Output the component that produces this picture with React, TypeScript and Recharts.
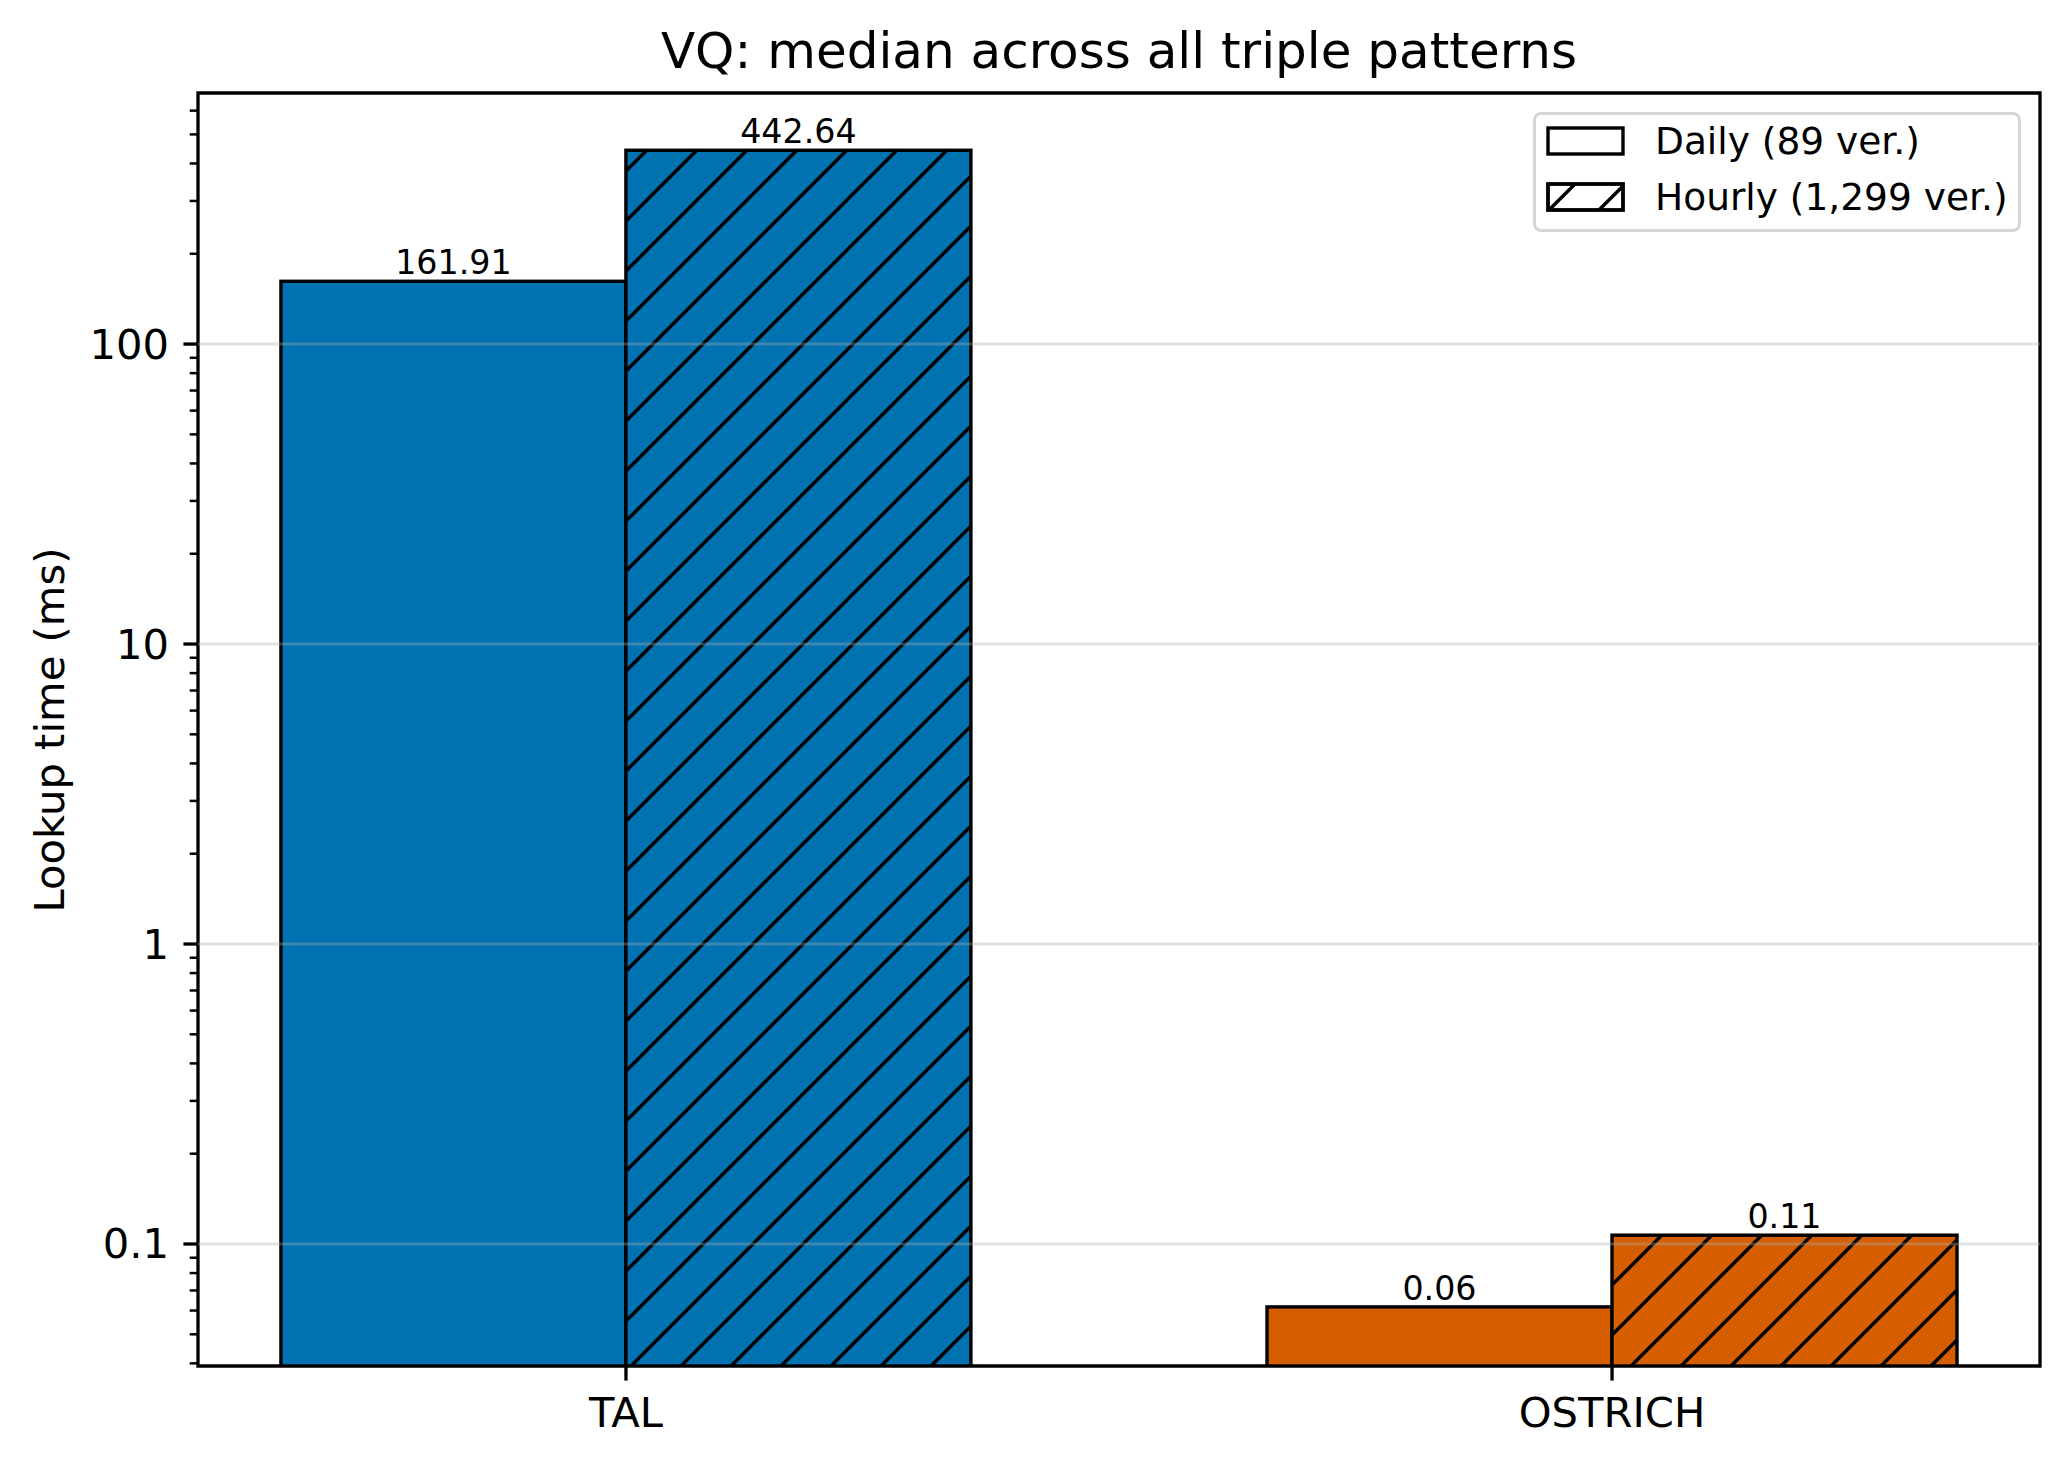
import React from 'react';
import {
  BarChart,
  Bar,
  XAxis,
  YAxis,
  Legend,
  LabelList,
  ReferenceLine,
  ReferenceArea,
} from 'recharts';

const categories = ['TAL', 'OSTRICH'];
const dailyValues = [161.91, 0.0617];
const hourlyValues = [442.64, 0.107];
const barColors = ['#0072B2', '#D55E00'];
const seriesNames = ['Daily (89 ver.)', 'Hourly (1,299 ver.)'];
const majorTicks = [0.1, 1, 10, 100];
const minorTicks = [
  0.04, 0.05, 0.06, 0.07, 0.08, 0.09,
  0.2, 0.3, 0.4, 0.5, 0.6, 0.7, 0.8, 0.9,
  2, 3, 4, 5, 6, 7, 8, 9,
  20, 30, 40, 50, 60, 70, 80, 90,
  200, 300, 400, 500, 600,
];

const data = categories.map((name, i) => ({
  x: i,
  name,
  daily: dailyValues[i],
  hourly: hourlyValues[i],
}));

const X_DOMAIN: [number, number] = [-0.434, 1.434];
const Y_DOMAIN: [number, number] = [0.0392, 687];
const FONT = 'DejaVu Sans, sans-serif';
const W = 2070;
const H = 1466;

const HatchBar = (props: any) => {
  const { x, y, width, height, index, hatched } = props;
  const color = barColors[index];
  return (
    <g>
      <rect x={x} y={y} width={width} height={height} fill={color} />
      {hatched && <rect x={x} y={y} width={width} height={height} fill="url(#hatch)" />}
      <rect x={x} y={y} width={width} height={height} fill="none" stroke="#000" strokeWidth={3.4} />
    </g>
  );
};

const YTick = (props: any) => {
  const { x, y, payload } = props;
  const major = majorTicks.includes(payload.value);
  const len = major ? 14.6 : 8.3;
  return (
    <g>
      <line x1={x - len} x2={x} y1={y} y2={y} stroke="#000" strokeWidth={major ? 3.3 : 2.5} />
      {major && (
        <text x={x - 29} y={y} textAnchor="end" dominantBaseline="central" fontFamily={FONT} fontSize={41.7} fill="#000">
          {String(payload.value)}
        </text>
      )}
    </g>
  );
};

const XTick = (props: any) => {
  const { x, y, payload } = props;
  return (
    <g>
      <line x1={x} x2={x} y1={y} y2={y + 14.6} stroke="#000" strokeWidth={3.3} />
      <text x={x} y={y + 61} textAnchor="middle" fontFamily={FONT} fontSize={41.7} fill="#000">
        {categories[payload.value]}
      </text>
    </g>
  );
};

const BarLabel = (props: any) => {
  const { x, y, width, value } = props;
  return (
    <text x={x + width / 2} y={y - 7} textAnchor="middle" fontFamily={FONT} fontSize={33.3} fill="#000">
      {Number(value).toFixed(2)}
    </text>
  );
};

const LegendBox = () => (
  <div
    style={{
      width: 488,
      height: 120,
      boxSizing: 'border-box',
      border: '3px solid #d6d6d6',
      borderRadius: 8,
      background: 'rgba(255,255,255,0.8)',
      fontFamily: FONT,
      fontSize: 37.5,
      position: 'relative',
    }}
  >
    {seriesNames.map((name, i) => (
      <div key={name} style={{ position: 'absolute', left: 0, top: -2 + i * 56, height: 56, display: 'flex', alignItems: 'center' }}>
        <svg width={119} height={56} style={{ display: 'block' }}>
          <defs>
            <pattern id={`lhatch${i}`} patternUnits="userSpaceOnUse" width={50} height={50} x={4} y={0}>
              <path d="M-5,55 L55,-5 M-5,5 L5,-5 M45,55 L55,45" stroke="#000" strokeWidth={3.4} />
            </pattern>
          </defs>
          <rect x={12} y={15} width={75} height={26} fill="#fff" stroke="#000" strokeWidth={3.4} />
          {i === 1 && <rect x={12} y={15} width={75} height={26} fill={`url(#lhatch${i})`} stroke="#000" strokeWidth={3.4} />}
        </svg>
        <span style={{ whiteSpace: 'nowrap', lineHeight: '56px' }}>{name}</span>
      </div>
    ))}
  </div>
);

const App: React.FC = () => {
  return (
    <div style={{ position: 'absolute', left: 0, top: 0, width: W, height: H, background: '#fff' }}>
      <BarChart
        width={W}
        height={H}
        data={data}
        margin={{ top: 93, right: 30, left: 0, bottom: 0 }}
        barGap={0}
        barSize={345}
      >
        <defs>
          <pattern id="hatch" patternUnits="userSpaceOnUse" width={50} height={50} x={-3} y={0}>
            <path d="M-5,55 L55,-5 M-5,5 L5,-5 M45,55 L55,45" stroke="#000" strokeWidth={3.4} />
          </pattern>
        </defs>
        <text x={1119} y={68} textAnchor="middle" fontFamily={FONT} fontSize={50} fill="#000">
          VQ: median across all triple patterns
        </text>
        <XAxis
          dataKey="x"
          type="number"
          domain={X_DOMAIN}
          allowDataOverflow
          ticks={[0, 1]}
          height={100}
          axisLine={false}
          tickLine={false}
          tickSize={0}
          tickMargin={0}
          tick={<XTick />}
          interval={0}
        />
        <YAxis
          scale="log"
          type="number"
          domain={Y_DOMAIN}
          allowDataOverflow
          ticks={[...minorTicks, ...majorTicks].sort((a, b) => a - b)}
          width={198}
          axisLine={false}
          tickLine={false}
          tickSize={0}
          tickMargin={0}
          tick={<YTick />}
          interval={0}
          label={{
            content: () => (
              <text
                x={49}
                y={730}
                transform="rotate(-90 49 730)"
                textAnchor="middle"
                dominantBaseline="central"
                fontFamily={FONT}
                fontSize={41.7}
                fill="#000"
              >
                Lookup time (ms)
              </text>
            ),
          }}
        />
        <Bar dataKey="daily" name={seriesNames[0]} isAnimationActive={false} shape={<HatchBar hatched={false} />}>
          <LabelList dataKey="daily" content={<BarLabel />} />
        </Bar>
        <Bar dataKey="hourly" name={seriesNames[1]} isAnimationActive={false} shape={<HatchBar hatched />}>
          <LabelList dataKey="hourly" content={<BarLabel />} />
        </Bar>
        {majorTicks.map((t) => (
          <ReferenceLine key={t} y={t} stroke="#b0b0b0" strokeOpacity={0.35} strokeWidth={3} />
        ))}
        <ReferenceArea
          x1={X_DOMAIN[0]}
          x2={X_DOMAIN[1]}
          y1={Y_DOMAIN[0]}
          y2={Y_DOMAIN[1]}
          fill="none"
          fillOpacity={0}
          stroke="#000"
          strokeWidth={3.3}
          ifOverflow="visible"
        />
        <Legend
          layout="horizontal"
          verticalAlign="middle"
          align="center"
          content={<LegendBox />}
          wrapperStyle={{ position: 'absolute', left: 1533, top: 112, width: 488, height: 120 }}
        />
      </BarChart>
    </div>
  );
};

export default App;
